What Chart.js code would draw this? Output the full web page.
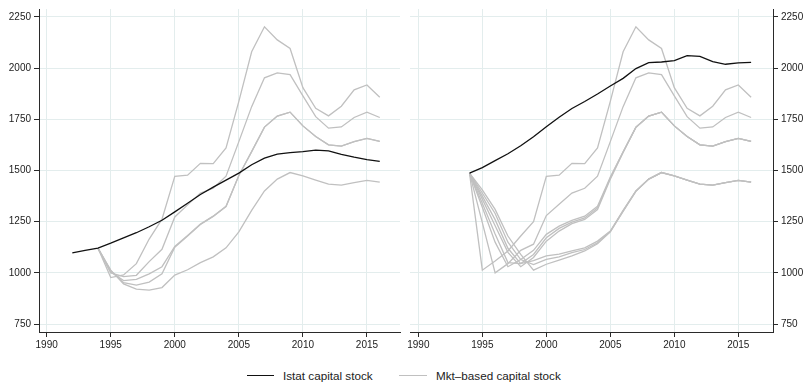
<!DOCTYPE html>
<html><head><meta charset="utf-8">
<script src="https://cdn.jsdelivr.net/npm/chart.js@4/dist/chart.umd.min.js"></script>
<style>
html,body{margin:0;padding:0;background:#fff;width:803px;height:382px;overflow:hidden;}
#cL{position:absolute;left:0;top:0;}
#cR{position:absolute;left:401px;top:0;}
.leg{position:absolute;top:368px;font-family:'Liberation Sans',Arial,sans-serif;font-size:11.7px;color:#222;line-height:15px;white-space:nowrap;}
.sw{position:absolute;height:0;}
</style></head><body>
<canvas id="cL" width="401" height="352"></canvas>
<canvas id="cR" width="402" height="352"></canvas>
<div class="sw" style="left:247px;top:375px;width:27px;border-top:1.3px solid #111"></div>
<span class="leg" style="left:283px">Istat capital stock</span>
<div class="sw" style="left:399px;top:375px;width:28px;border-top:1.3px solid #c0c0c0"></div>
<span class="leg" style="left:436px">Mkt–based capital stock</span>
<script>
// ---- data ----
const xTicks = [1990, 1995, 2000, 2005, 2010, 2015];
const yTicks = [750, 1000, 1250, 1500, 1750, 2000, 2250];

const yearsIstatLeft = [1992,1993,1994,1995,1996,1997,1998,1999,2000,2001,2002,2003,2004,2005,2006,2007,2008,2009,2010,2011,2012,2013,2014,2015,2016];
const istatLeft = [1098,1110,1121,1145,1171,1196,1225,1257,1298,1340,1383,1419,1453,1487,1528,1560,1580,1587,1592,1600,1596,1579,1565,1553,1545];

const years = [1994,1995,1996,1997,1998,1999,2000,2001,2002,2003,2004,2005,2006,2007,2008,2009,2010,2011,2012,2013,2014,2015,2016];

const mktLeftA = [1121,977,990,1045,1165,1262,1471,1477,1535,1534,1610,1838,2080,2202,2138,2096,1905,1804,1767,1814,1894,1918,1858];
const mktLeftB = [1121,1000,982,988,1055,1115,1273,1332,1390,1413,1472,1641,1812,1953,1977,1968,1865,1763,1707,1713,1759,1785,1759];
const mktLeftC = [1121,1005,962,968,995,1030,1129,1183,1238,1277,1325,1476,1592,1712,1766,1785,1718,1666,1625,1619,1641,1657,1642];
const mktLeftD = [1121,1010,952,940,955,995,1125,1180,1236,1276,1324,1476,1592,1712,1766,1785,1718,1666,1625,1619,1641,1657,1642];
const mktLeftE = [1121,1013,946,920,916,928,989,1015,1050,1078,1122,1200,1305,1400,1458,1490,1474,1453,1433,1429,1441,1452,1443];

const istatRight = [1487,1514,1548,1582,1621,1665,1714,1760,1803,1837,1874,1913,1950,1998,2027,2030,2037,2061,2058,2032,2019,2026,2028];

const mktRight1 = [1487,1013,1058,1107,1180,1250,1471,1477,1535,1534,1610,1838,2080,2202,2138,2096,1905,1804,1767,1814,1894,1918,1858];
const mktRight2 = [1487,1245,1000,1045,1110,1140,1280,1335,1390,1413,1472,1641,1812,1953,1977,1968,1865,1763,1707,1713,1759,1785,1759];
const mktRight3 = [1487,1320,1150,1030,1065,1110,1188,1228,1256,1277,1325,1468,1592,1712,1766,1785,1718,1666,1625,1619,1641,1657,1642];
const mktRight4 = [1487,1340,1190,1050,1045,1090,1171,1217,1248,1268,1317,1463,1590,1712,1766,1785,1718,1666,1625,1619,1641,1657,1642];
const mktRight5 = [1487,1360,1230,1100,1030,1075,1155,1204,1240,1261,1309,1458,1588,1710,1766,1785,1718,1666,1625,1619,1641,1657,1642];
const mktRight6 = [1487,1375,1260,1120,1045,1060,1083,1091,1107,1122,1155,1204,1305,1400,1458,1490,1474,1453,1433,1429,1441,1452,1443];
const mktRight7 = [1487,1390,1290,1150,1065,1040,1066,1078,1099,1114,1147,1202,1303,1400,1458,1490,1474,1453,1433,1429,1441,1452,1443];
const mktRight8 = [1487,1405,1310,1180,1090,1013,1042,1062,1083,1107,1142,1200,1300,1398,1458,1490,1474,1453,1433,1429,1441,1452,1443];

// ---- helpers ----
const BLACK = '#111111', GRAY = '#c0c0c0';
const GRID = '#e3eded', AXIS = '#2a2a2a';
const FONT = {family: "'Liberation Sans', Arial, sans-serif", size: 10};
function pts(xs, ys) { return xs.map((x, i) => ({x: x, y: ys[i]})); }
function ds(xs, ys, color) {
  return {data: pts(xs, ys), borderColor: color, borderWidth: color === BLACK ? 1.3 : 1.3,
          pointRadius: 0, fill: false, tension: 0};
}
function makeOptions(xmin, xmax, yPos, yWidth, padL, padR) {
  return {
    responsive: false, animation: false, devicePixelRatio: 1,
    layout: {padding: {top: 7, left: padL, right: padR, bottom: 0}},
    plugins: {legend: {display: false}, tooltip: {enabled: false}},
    scales: {
      x: {
        type: 'linear', min: xmin, max: xmax,
        afterBuildTicks: s => { s.ticks = xTicks.map(v => ({value: v})); },
        afterFit: s => { s.height = 20; },
        grid: {color: GRID, lineWidth: 1, tickColor: AXIS, tickLength: 5},
        border: {color: AXIS, width: 1},
        ticks: {font: FONT, color: '#222', padding: 2, maxRotation: 0, callback: v => String(v)}
      },
      y: {
        type: 'linear', min: 711, max: 2289, position: yPos,
        afterBuildTicks: s => { s.ticks = yTicks.map(v => ({value: v})); },
        afterFit: s => { s.width = yWidth; },
        grid: {color: GRID, lineWidth: 1, tickColor: AXIS, tickLength: 5},
        border: {color: AXIS, width: 1},
        ticks: {font: FONT, color: '#222', padding: 3, callback: v => String(v)}
      }
    }
  };
}

new Chart(document.getElementById('cL'), {
  type: 'line',
  data: {datasets: [
    ds(yearsIstatLeft, istatLeft, BLACK),
    ds(years, mktLeftA, GRAY), ds(years, mktLeftB, GRAY), ds(years, mktLeftC, GRAY),
    ds(years, mktLeftD, GRAY), ds(years, mktLeftE, GRAY)
  ]},
  options: makeOptions(1989.4, 2017.58, 'left', 39, 0, 1)
});

new Chart(document.getElementById('cR'), {
  type: 'line',
  data: {datasets: [
    ds(years, istatRight, BLACK),
    ds(years, mktRight1, GRAY), ds(years, mktRight2, GRAY), ds(years, mktRight3, GRAY),
    ds(years, mktRight4, GRAY), ds(years, mktRight5, GRAY), ds(years, mktRight6, GRAY),
    ds(years, mktRight7, GRAY), ds(years, mktRight8, GRAY)
  ]},
  options: makeOptions(1989.35, 2017.71, 'right', 30, 9, 0)
});
</script>
</body></html>
